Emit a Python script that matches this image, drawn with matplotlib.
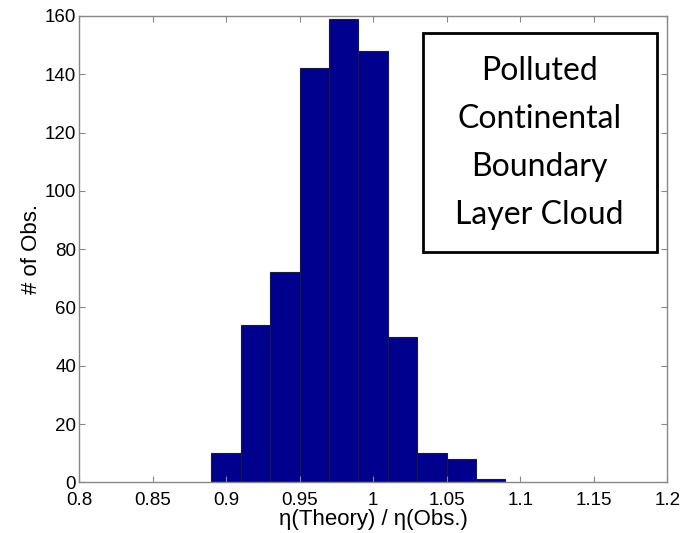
import matplotlib.pyplot as plt
from matplotlib.patches import Rectangle

# Histogram bins (left edges) and counts
bin_left = [0.89, 0.91, 0.93, 0.95, 0.97, 0.99, 1.01, 1.03, 1.05, 1.07]
counts = [10, 54, 72, 142, 159, 148, 50, 10, 8, 1]
bin_width = 0.02

xticks = [0.8, 0.85, 0.9, 0.95, 1.0, 1.05, 1.1, 1.15, 1.2]
xtick_labels = ['0.8', '0.85', '0.9', '0.95', '1', '1.05', '1.1', '1.15', '1.2']
yticks = [0, 20, 40, 60, 80, 100, 120, 140, 160]

plt.rcParams['font.family'] = ['Liberation Sans', 'DejaVu Sans']

fig = plt.figure(figsize=(6.84, 5.33), dpi=100)
ax = fig.add_axes([0.1155, 0.095, 0.86, 0.875])

ax.bar(bin_left, counts, width=bin_width, align='edge',
       color='#00008F', edgecolor='#1a1a40', linewidth=0.8)

ax.set_xlim(0.8, 1.2)
ax.set_ylim(0, 160)
ax.set_xticks(xticks)
ax.set_xticklabels(xtick_labels)
ax.set_yticks(yticks)
ax.tick_params(direction='in', length=4, color='#888888', labelsize=13.5,
               top=True, right=True, pad=2)
ax.tick_params(axis='x', pad=7)
for s in ax.spines.values():
    s.set_color('#888888')
    s.set_linewidth(1.0)

ax.set_xlabel('η(Theory) / η(Obs.)', fontsize=16, labelpad=0)
ax.set_ylabel('# of Obs.', fontsize=16, labelpad=2)

# Annotation box, placed in figure coordinates
fig.patches.append(Rectangle((0.619, 0.527), 0.342, 0.411,
                             transform=fig.transFigure, facecolor='white',
                             edgecolor='black', linewidth=2, zorder=5))
fig.text(0.789, 0.732, 'Polluted\nContinental\nBoundary\nLayer Cloud',
         ha='center', va='center', fontsize=23,
         family=['Lato', 'DejaVu Sans'], linespacing=1.75, zorder=6)

fig.savefig('out.png', dpi=100)
